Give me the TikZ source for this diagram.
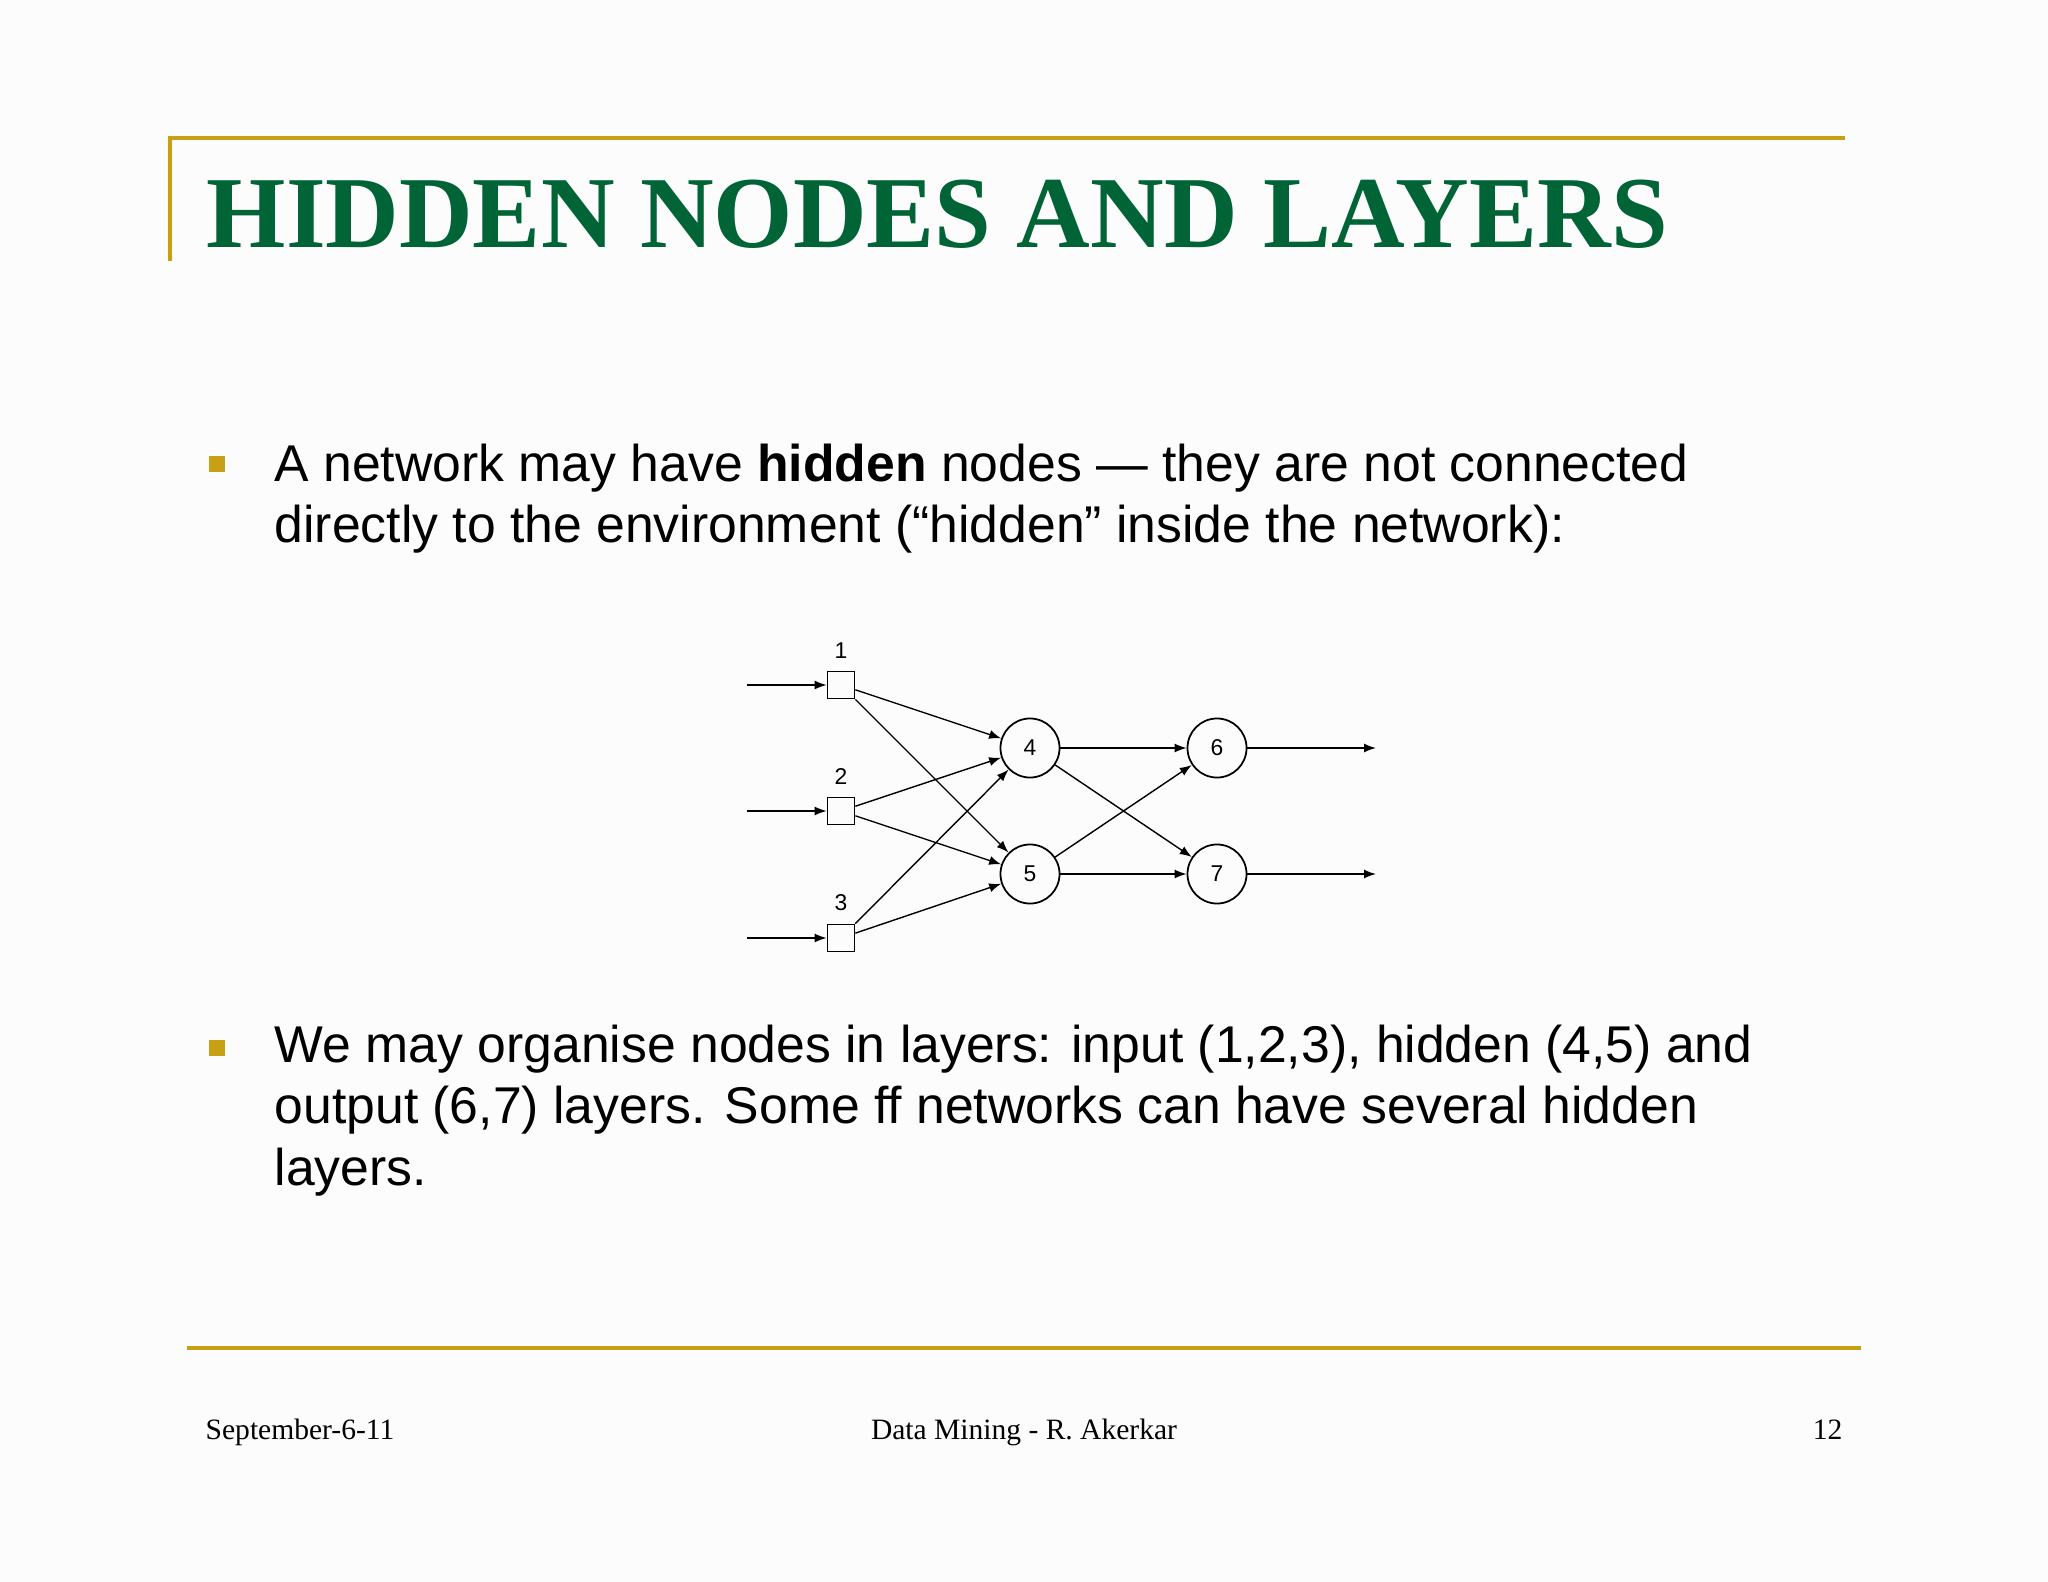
\documentclass[tikz,border=0pt]{standalone}
\usepackage{fontspec}
\setmainfont{Liberation Serif}
\setsansfont{Liberation Sans}
\usetikzlibrary{arrows.meta,shapes.geometric}
\definecolor{titlegreen}{RGB}{0,100,55}
\definecolor{gold}{RGB}{200,160,20}
\definecolor{bg}{RGB}{252,252,252}
\tikzset{
  inp/.style={draw,rectangle,minimum width=0.27cm,minimum height=0.27cm,inner sep=0pt,line width=0.5pt},
  neur/.style={draw,circle,minimum size=0.59cm,inner sep=0pt,line width=0.5pt,font=\sffamily\fontsize{6.5}{7}\selectfont},
  lab/.style={font=\sffamily\fontsize{6.5}{7}\selectfont,inner sep=0pt},
  conn/.style={line width=0.4pt,-{Latex[length=1.2mm,width=0.9mm]}},
  body/.style={font=\sffamily\fontsize{14.7}{17}\selectfont,anchor=base west,inner sep=0pt},
  foot/.style={font=\rmfamily\fontsize{8.4}{9}\selectfont,anchor=base,inner sep=0pt},
  bul/.style={fill=gold,draw=none,minimum size=0.16cm,inner sep=0pt}
}
\begin{document}
\begin{tikzpicture}[x=0.01cm,y=-0.01cm]
\fill[bg] (0,0) rectangle (2048,1582);
\useasboundingbox (0,0) rectangle (2048,1582);
% title frame
\draw[gold,line width=1.2pt] (170,261) -- (170,138) -- (1845,138);
\node[anchor=base west,inner sep=0pt,text=titlegreen,font=\rmfamily\bfseries\fontsize{29}{32}\selectfont] (title) at (206,248) {HIDDEN NODES AND LAYERS};
% bullet 1
\node[bul] (b1) at (217,464) {};
\node[body] (t1a) at (274,481) {A network may have \textbf{hidden} nodes — they are not connected};
\node[body] (t1b) at (274,542) {directly to the environment (“hidden” inside the network):};
% bullet 2
\node[bul] (b2) at (217,1048) {};
\node[body] (t2a) at (274,1062) {We may organise nodes in layers: input (1,2,3), hidden (4,5) and};
\node[body] (t2b) at (274,1123) {output (6,7) layers. Some ff networks can have several hidden};
\node[body] (t2c) at (274,1185) {layers.};
% network
\node[inp] (n1) at (841,685) {};
\node[inp] (n2) at (841,811) {};
\node[inp] (n3) at (841,938) {};
\node[lab] (l1) at (841,651) {1};
\node[lab] (l2) at (841,777) {2};
\node[lab] (l3) at (841,903) {3};
\node[neur] (n4) at (1030,748) {4};
\node[neur] (n5) at (1030,874) {5};
\node[neur] (n6) at (1217,748) {6};
\node[neur] (n7) at (1217,874) {7};
\coordinate (i1) at (747,685);
\coordinate (i2) at (747,811);
\coordinate (i3) at (747,938);
\coordinate (o6) at (1376,748);
\coordinate (o7) at (1376,874);
\draw[conn] (i1) -- (n1);
\draw[conn] (i2) -- (n2);
\draw[conn] (i3) -- (n3);
\foreach \a in {1,2,3}{
  \draw[conn] (n\a) -- (n4);
  \draw[conn] (n\a) -- (n5);
}
\draw[conn] (n4) -- (n6);
\draw[conn] (n4) -- (n7);
\draw[conn] (n5) -- (n6);
\draw[conn] (n5) -- (n7);
\draw[conn] (n6) -- (o6);
\draw[conn] (n7) -- (o7);
% footer
\draw[gold,line width=1.2pt] (187,1348) -- (1861,1348);
\node[foot,anchor=base west] (f1) at (205,1439) {September-6-11};
\node[foot] (f2) at (1024,1439) {Data Mining - R. Akerkar};
\node[foot,anchor=base east] (f3) at (1843,1439) {12};
\end{tikzpicture}
\end{document}
